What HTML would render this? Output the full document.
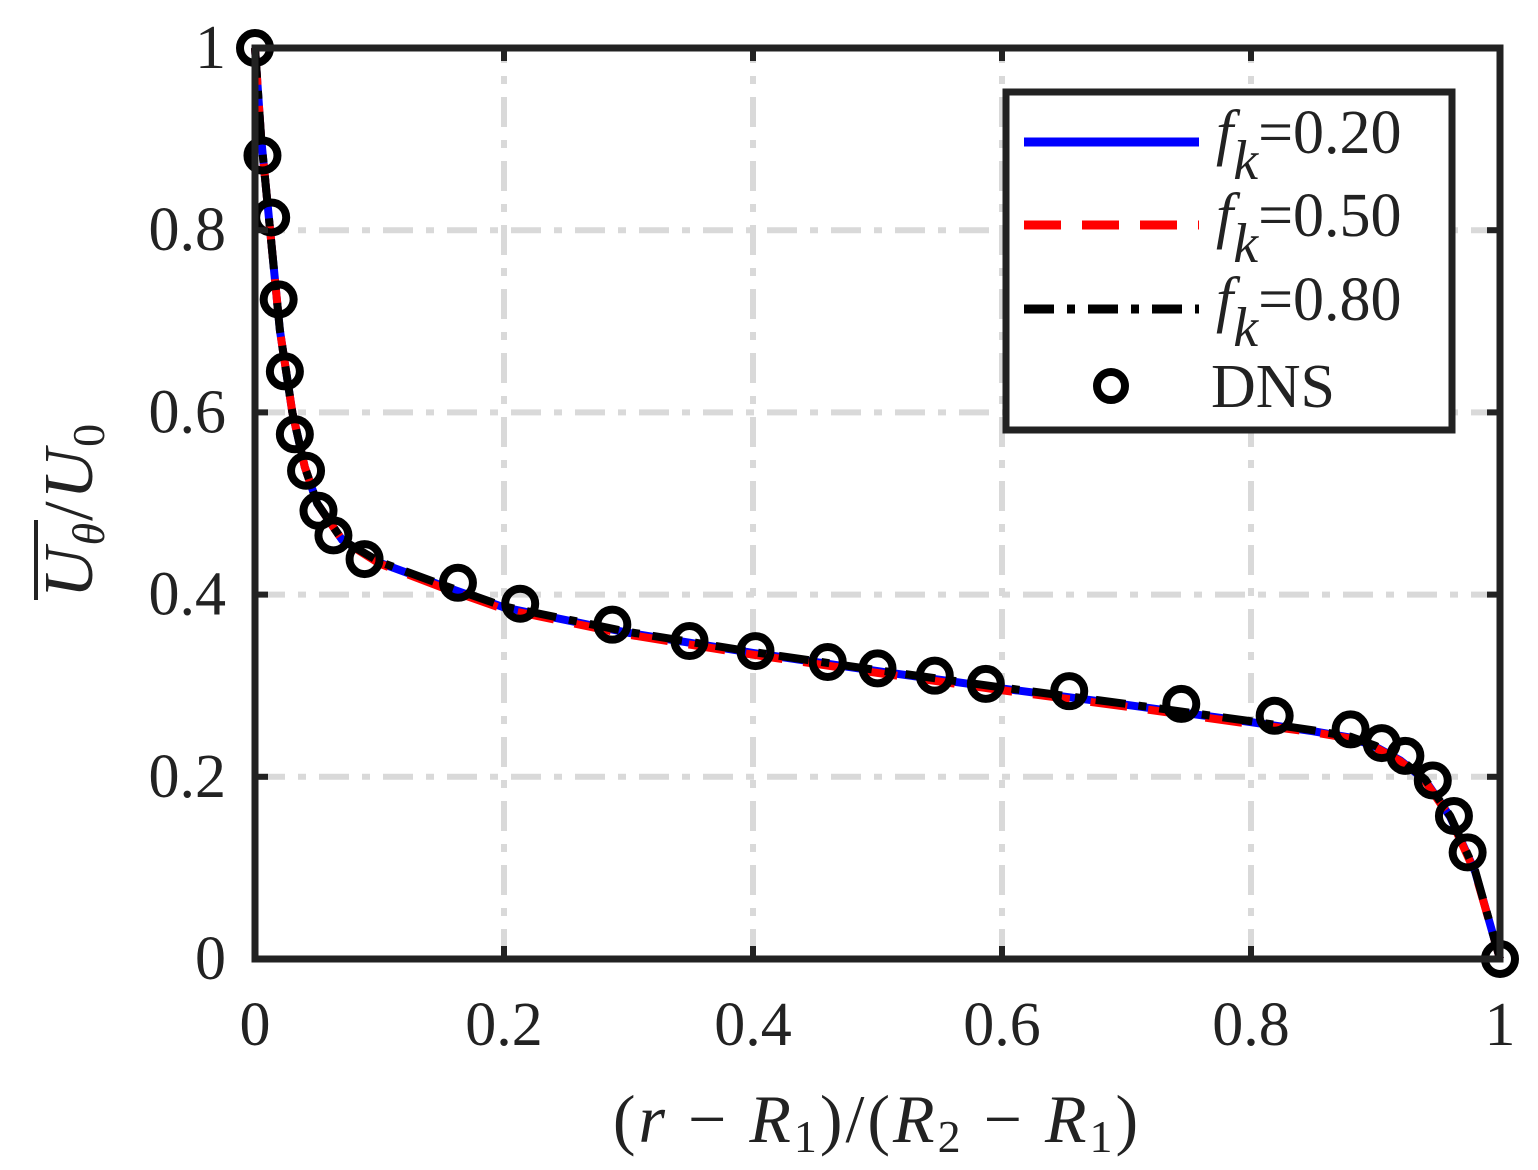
<!DOCTYPE html>
<html><head><meta charset="utf-8"><style>
body{margin:0;background:#fff}
svg{display:block}
text{font-family:"Liberation Serif","DejaVu Serif",serif;fill:#222}
</style></head><body>
<svg id="chart" width="1538" height="1170" viewBox="0 0 1538 1170" xmlns="http://www.w3.org/2000/svg">
<rect width="1538" height="1170" fill="#fff"/>
<g id="grid"></g>
<g id="series"></g>
<g id="dns"></g>
<g id="frame"></g>
<g id="ticks"></g>
<text x="877" y="1142" font-size="68" text-anchor="middle" letter-spacing="3">(<tspan font-style="italic">r</tspan> − <tspan font-style="italic">R</tspan><tspan font-size="46" dy="10">1</tspan><tspan dy="-10">)/(</tspan><tspan font-style="italic">R</tspan><tspan font-size="46" dy="10">2</tspan><tspan dy="-10"> − </tspan><tspan font-style="italic">R</tspan><tspan font-size="46" dy="10">1</tspan><tspan dy="-10">)</tspan></text>
<g transform="translate(92,510) rotate(-90)">
<text x="0" y="0" font-size="70" text-anchor="middle" letter-spacing="2"><tspan font-style="italic">U</tspan><tspan font-size="46" font-style="italic" dy="12">θ</tspan><tspan dy="-12">/</tspan><tspan font-style="italic">U</tspan><tspan font-size="46" dy="12">0</tspan></text>
<line x1="-90" y1="-56" x2="-10" y2="-56" stroke="#222" stroke-width="4"/>
</g>
<g id="legend">
<rect x="1006" y="92" width="446" height="338" fill="#fff" stroke="#222" stroke-width="7"/>
<line x1="1024" y1="142" x2="1199" y2="142" stroke="#0000ff" stroke-width="9"/>
<line x1="1024" y1="225" x2="1199" y2="225" stroke="#ff0000" stroke-width="9" stroke-dasharray="37,21"/>
<line x1="1024" y1="309" x2="1199" y2="309" stroke="#000" stroke-width="9" stroke-dasharray="30,13,8,13"/>
<circle cx="1111" cy="386" r="14" fill="none" stroke="#000" stroke-width="8"/>
<text x="1216" y="153" font-size="62"><tspan font-style="italic">f</tspan><tspan font-style="italic" font-size="56" dy="26">k</tspan><tspan dy="-26">=0.20</tspan></text>
<text x="1216" y="236" font-size="62"><tspan font-style="italic">f</tspan><tspan font-style="italic" font-size="56" dy="26">k</tspan><tspan dy="-26">=0.50</tspan></text>
<text x="1216" y="320" font-size="62"><tspan font-style="italic">f</tspan><tspan font-style="italic" font-size="56" dy="26">k</tspan><tspan dy="-26">=0.80</tspan></text>
<text x="1211" y="407" font-size="62">DNS</text>
</g>
</svg>
<script>
const xTicks=[0,0.2,0.4,0.6,0.8,1];
const xTickLabels=["0","0.2","0.4","0.6","0.8","1"];
const yTicks=[0,0.2,0.4,0.6,0.8,1];
const yTickLabels=["0","0.2","0.4","0.6","0.8","1"];
const lineX=[0,0.005,0.01,0.015,0.02,0.03,0.04,0.05,0.07,0.1,0.15,0.2,0.3,0.4,0.5,0.6,0.7,0.8,0.85,0.88,0.9,0.92,0.94,0.96,0.98,1];
const fk020=[1,0.90,0.83,0.76,0.69,0.60,0.54,0.50,0.46,0.435,0.41,0.386,0.358,0.336,0.316,0.297,0.279,0.260,0.250,0.243,0.233,0.218,0.196,0.156,0.096,0];
const fk050=[1,0.90,0.83,0.76,0.69,0.60,0.54,0.50,0.46,0.434,0.408,0.384,0.356,0.334,0.314,0.295,0.277,0.258,0.249,0.242,0.232,0.217,0.195,0.155,0.095,0];
const fk080=[1,0.90,0.83,0.76,0.69,0.60,0.54,0.50,0.46,0.436,0.411,0.387,0.359,0.337,0.317,0.298,0.280,0.261,0.251,0.244,0.234,0.219,0.197,0.157,0.097,0];
const dnsX=[0,0.006,0.013,0.019,0.024,0.032,0.041,0.051,0.063,0.088,0.163,0.213,0.287,0.349,0.402,0.460,0.5,0.546,0.587,0.654,0.744,0.819,0.880,0.905,0.924,0.946,0.963,0.974,1];
const dnsY=[1,0.882,0.814,0.724,0.645,0.576,0.536,0.492,0.465,0.439,0.413,0.390,0.367,0.349,0.338,0.326,0.319,0.311,0.302,0.294,0.280,0.267,0.252,0.237,0.223,0.196,0.157,0.117,0];
const X0=255,X1=1500,Y0=959,Y1=48;
const sx=v=>X0+(X1-X0)*v, sy=v=>Y0-(Y0-Y1)*v;
const NS='http://www.w3.org/2000/svg';
function mk(tag,parent,attrs){const e=document.createElementNS(NS,tag);for(const k in attrs)e.setAttribute(k,attrs[k]);document.getElementById(parent).appendChild(e);return e;}
xTicks.forEach((t,i)=>{
 if(t>0&&t<1){const g=mk('line','grid',{x1:sx(t),y1:Y0,x2:sx(t),y2:Y1,stroke:'#d9d9d9','stroke-width':6,'stroke-dasharray':'30,13,8,13'});
 
 }
 const tk=mk('line','ticks',{x1:sx(t),y1:Y0,x2:sx(t),y2:Y0-13,stroke:'#222','stroke-width':6});
 
 
 const tk2=mk('line','ticks',{x1:sx(t),y1:Y1,x2:sx(t),y2:Y1+13,stroke:'#222','stroke-width':6});
 
 
 const l=mk('text','ticks',{x:sx(t),y:1045,'font-size':62,'text-anchor':'middle'});l.textContent=xTickLabels[i];
 
 
});
yTicks.forEach((t,i)=>{
 if(t>0&&t<1){const g=mk('line','grid',{x1:X0,y1:sy(t),x2:X1,y2:sy(t),stroke:'#d9d9d9','stroke-width':6,'stroke-dasharray':'30,13,8,13'});
 
 }
 const tk=mk('line','ticks',{x1:X0,y1:sy(t),x2:X0+13,y2:sy(t),stroke:'#222','stroke-width':6});
 
 
 const tk2=mk('line','ticks',{x1:X1,y1:sy(t),x2:X1-13,y2:sy(t),stroke:'#222','stroke-width':6});
 
 
 const l=mk('text','ticks',{x:226,y:sy(t)+20,'font-size':62,'text-anchor':'end'});l.textContent=yTickLabels[i];
 
 
});
const fr=mk('rect','frame',{x:X0,y:Y1,width:X1-X0,height:Y0-Y1,fill:'none',stroke:'#222','stroke-width':7});


function pts(ys){return lineX.map((x,i)=>sx(x)+','+sy(ys[i])).join(' ');}
const p1=mk('polyline','series',{points:pts(fk020),fill:'none',stroke:'#0000ff','stroke-width':8});


const p2=mk('polyline','series',{points:pts(fk050),fill:'none',stroke:'#ff0000','stroke-width':8,'stroke-dasharray':'37,21'});


const p3=mk('polyline','series',{points:pts(fk080),fill:'none',stroke:'#000','stroke-width':8,'stroke-dasharray':'30,13,8,13'});


dnsX.forEach((x,i)=>{
 const c=mk('circle','dns',{cx:sx(x),cy:sy(dnsY[i]),r:15,fill:'none',stroke:'#000','stroke-width':8});
 
 
});
</script>
</body></html>
